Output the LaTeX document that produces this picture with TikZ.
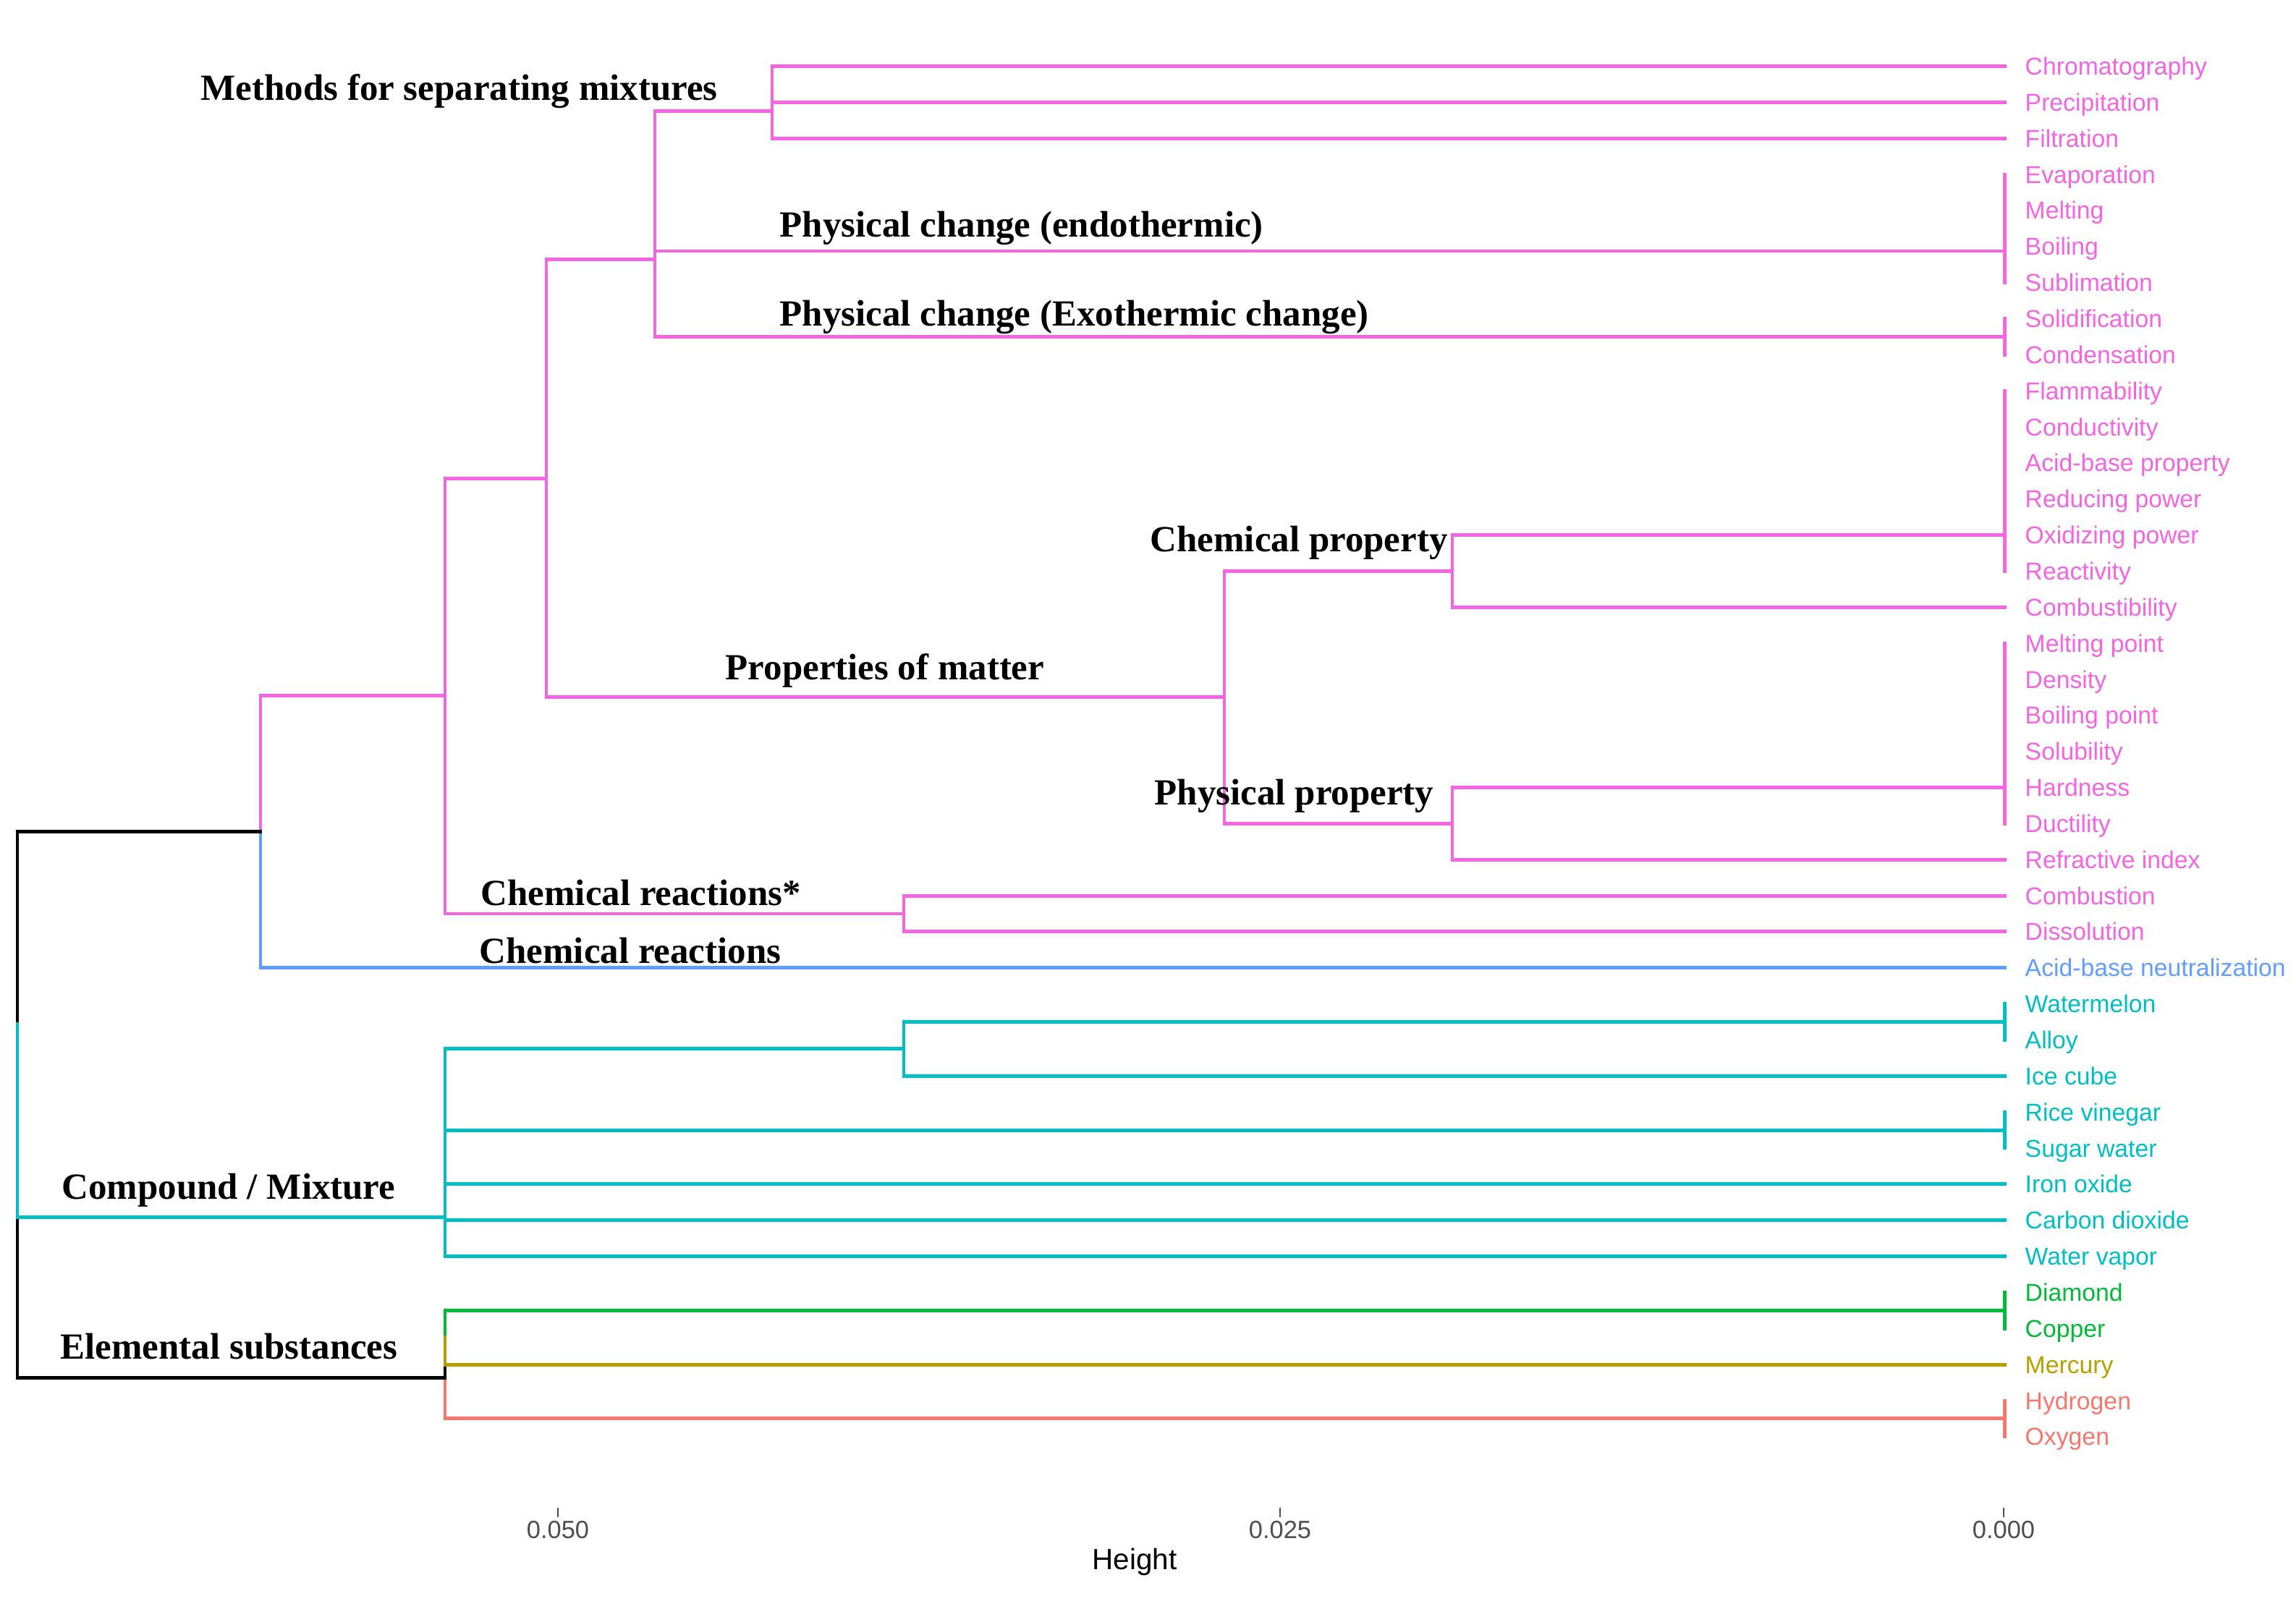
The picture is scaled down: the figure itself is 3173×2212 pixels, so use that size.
\documentclass[tikz,border=0pt]{standalone}
\usepackage{fontspec}
\setmainfont{Liberation Serif}
\setsansfont{Liberation Sans}
\usetikzlibrary{positioning}

\definecolor{clpink}{HTML}{F564E3}
\definecolor{clblue}{HTML}{619CFF}
\definecolor{clcyan}{HTML}{00BFC4}
\definecolor{clgreen}{HTML}{00BA38}
\definecolor{clgold}{HTML}{B79F00}
\definecolor{clsalmon}{HTML}{F8766D}
\definecolor{axgray}{HTML}{4D4D4D}

% vertical position of a leaf row
\newcommand{\rowy}[1]{91.5+49.85*(#1)}

\begin{document}
\begin{tikzpicture}[
    x=0.1mm, y=-0.1mm,
    branch/.style={line width=1.4pt, line cap=rect},
    pinkbr/.style={branch, draw=clpink},
    leaf/.style={font=\sffamily\fontsize{9.6}{11}\selectfont, inner sep=0pt, yshift=-0.4mm},
    clade/.style={font=\bfseries\fontsize{14.5}{17}\selectfont, anchor=base west, inner sep=0pt},
    axtick/.style={draw=axgray, line width=0.8pt},
    axlabel/.style={font=\sffamily\fontsize{9.8}{11}\selectfont, text=axgray, inner sep=0pt}
]
\useasboundingbox (0,0) rectangle (3173,2212);

% Define leaves
\foreach \lab/\col [count=\i from 0] in {Chromatography/clpink, Precipitation/clpink,
    Filtration/clpink, Evaporation/clpink, Melting/clpink, Boiling/clpink,
    Sublimation/clpink, Solidification/clpink, Condensation/clpink,
    Flammability/clpink, Conductivity/clpink, Acid-base property/clpink,
    Reducing power/clpink, Oxidizing power/clpink, Reactivity/clpink,
    Combustibility/clpink, Melting point/clpink, Density/clpink,
    Boiling point/clpink, Solubility/clpink, Hardness/clpink, Ductility/clpink,
    Refractive index/clpink, Combustion/clpink, Dissolution/clpink,
    Acid-base neutralization/clblue, Watermelon/clcyan, Alloy/clcyan,
    Ice cube/clcyan, Rice vinegar/clcyan, Sugar water/clcyan, Iron oxide/clcyan,
    Carbon dioxide/clcyan, Water vapor/clcyan, Diamond/clgreen, Copper/clgreen,
    Mercury/clgold, Hydrogen/clsalmon, Oxygen/clsalmon}{
  \coordinate (end\i) at (2770,{\rowy{\i}});
  \node[leaf, text=\col, right=2.8mm of end\i, anchor=mid west] (leaf\i) {\lab};
}

% Define merge points
\coordinate (separate) at (1067,{\rowy{1.25}});
\coordinate (endo)     at (2770,{\rowy{5.125}});
\coordinate (exo)      at (2770,{\rowy{7.5}});
\coordinate (change)   at (905,{\rowy{5.35}});
\coordinate (chemprop) at (2007,{\rowy{14}});
\coordinate (physprop) at (2007,{\rowy{21}});
\coordinate (props)    at (1692,{\rowy{17.5}});
\coordinate (matter)   at (755,{\rowy{11.43}});
\coordinate (reactstar) at (1249,{\rowy{23.5}});
\coordinate (pinkroot) at (615,{\rowy{17.46}});
\coordinate (top)      at (360,{\rowy{21.23}});
\coordinate (root)     at (24,{\rowy{26.56}});
\coordinate (melonalloy) at (2770,{\rowy{26.5}});
\coordinate (melon)    at (1249,{\rowy{27.25}});
\coordinate (vinegar)  at (2770,{\rowy{29.5}});
\coordinate (compound) at (615,{\rowy{31.92}});
\coordinate (metal)    at (2770,{\rowy{34.5}});
\coordinate (gas)      at (2770,{\rowy{37.5}});
\coordinate (pure)     at (615,{\rowy{35.25}});
\coordinate (elemental) at (615,{\rowy{36.375}});

% Pink cluster
\draw[pinkbr] (end0) -| (separate);
\draw[pinkbr] (end2) -| (separate);
\draw[pinkbr] (end1) -- (end1 -| separate);
\draw[pinkbr] (end3) -- (end6);
\draw[pinkbr] (end7) -- (end8);
\draw[pinkbr] (separate) -| (change);
\draw[pinkbr] (exo) -| (change);
\draw[pinkbr] (endo) -- (endo -| change);
\draw[pinkbr] (end9) -- (end14);
\draw[pinkbr] (end13) -| (chemprop);
\draw[pinkbr] (end15) -| (chemprop);
\draw[pinkbr] (end16) -- (end21);
\draw[pinkbr] (end20) -| (physprop);
\draw[pinkbr] (end22) -| (physprop);
\draw[pinkbr] (chemprop) -| (props);
\draw[pinkbr] (physprop) -| (props);
\draw[pinkbr] (change) -| (matter);
\draw[pinkbr] (props) -| (matter);
\draw[pinkbr] (end23) -| (reactstar);
\draw[pinkbr] (end24) -| (reactstar);
\draw[pinkbr] (matter) -| (pinkroot);
\draw[pinkbr] (reactstar) -| (pinkroot);
\draw[pinkbr] (pinkroot) -| (top);
\draw[branch, draw=clblue] (end25) -| (top);

% Cyan cluster
\draw[branch, draw=clcyan] (end26) -- (end27);
\draw[branch, draw=clcyan] (end29) -- (end30);
\draw[branch, draw=clcyan] (melonalloy) -| (melon);
\draw[branch, draw=clcyan] (end28) -| (melon);
\draw[branch, draw=clcyan] (melon) -| (compound);
\draw[branch, draw=clcyan] (end33) -| (compound);
\draw[branch, draw=clcyan] (vinegar) -- (vinegar -| compound);
\draw[branch, draw=clcyan] (end31) -- (end31 -| compound);
\draw[branch, draw=clcyan] (end32) -- (end32 -| compound);

% Elemental substances
\draw[branch, draw=clgreen] (end34) -- (end35);
\draw[branch, draw=clsalmon] (end37) -- (end38);
\draw[branch, draw=black] (end36 -| pure) -- (elemental);
\draw[branch, draw=clgreen] (metal) -| (pure);
\draw[branch, draw=clgold] (end36) -| (pure);
\draw[branch, draw=clsalmon] (gas) -| (elemental);

% Root
\draw[branch, draw=black] (top) -| (root);
\draw[branch, draw=black] (elemental) -| (root |- compound);
\draw[branch, draw=clcyan] (compound) -| (root);

% Clade labels
\node[clade] (lsep)   at (277,138)   {Methods for separating mixtures};
\node[clade] (lendo)  at (1077,327)  {Physical change (endothermic)};
\node[clade] (lexo)   at (1077,450)  {Physical change (Exothermic change)};
\node[clade] (lchem)  at (1589,762)  {Chemical property};
\node[clade] (lmat)   at (1002,939)  {Properties of matter};
\node[clade] (lphys)  at (1595,1112) {Physical property};
\node[clade] (lreas)  at (664,1251)  {Chemical reactions*};
\node[clade] (lrea)   at (662,1331)  {Chemical reactions};
\node[clade] (lcomp)  at (85,1657)   {Compound / Mixture};
\node[clade] (lelem)  at (83,1878)   {Elemental substances};

% Axis
\foreach \h/\xx in {0.050/771, 0.025/1769, 0.000/2769}{
  \draw[axtick] (\xx,2084) -- (\xx,2097);
  \node[axlabel] (tick\xx) at (\xx,2115) {\h};
}
\node[font=\sffamily\fontsize{11.5}{13}\selectfont, inner sep=0pt] (height) at (1568,2159) {Height};

\end{tikzpicture}
\end{document}
